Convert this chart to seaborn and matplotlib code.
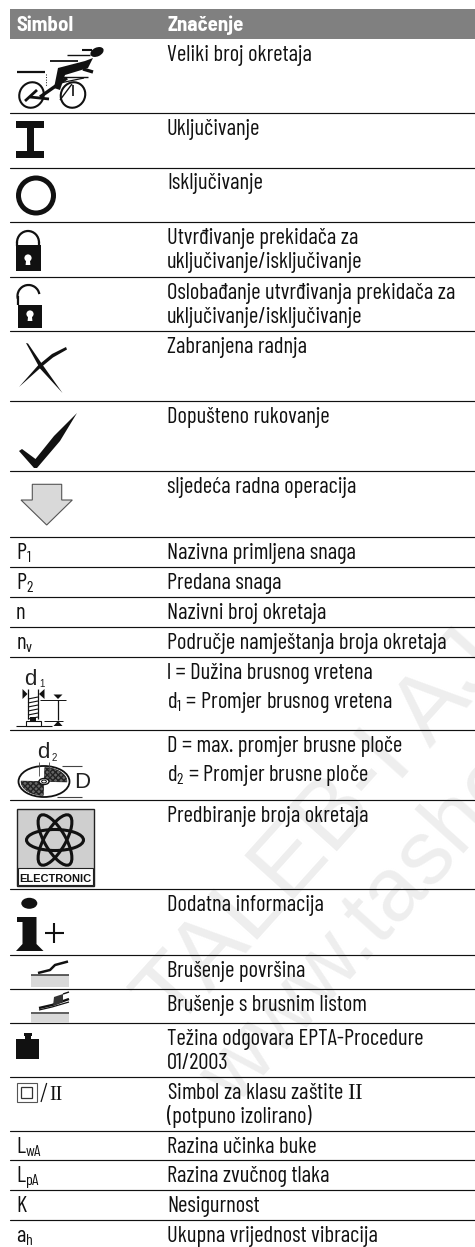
import numpy as np
import pandas as pd
import matplotlib
matplotlib.use("Agg")
import matplotlib.pyplot as plt
from matplotlib.patches import Rectangle, Polygon, Ellipse, Arc, Circle
import seaborn as sns

# tablica simbola
header = ["Simbol", "Značenje"]
symbol_text = {
    8: "P$_{1}$", 9: "P$_{2}$", 10: "n", 11: "n$_{v}$",
    20: "L$_{wA}$", 21: "L$_{pA}$", 22: "K", 23: "a$_{h}$",
}
meanings = [
    ["Veliki broj okretaja"],
    ["Uključivanje"],
    ["Isključivanje"],
    ["Utvrđivanje prekidača za", "uključivanje/isključivanje"],
    ["Oslobađanje utvrđivanja prekidača za", "uključivanje/isključivanje"],
    ["Zabranjena radnja"],
    ["Dopušteno rukovanje"],
    ["sljedeća radna operacija"],
    ["Nazivna primljena snaga"],
    ["Predana snaga"],
    ["Nazivni broj okretaja"],
    ["Područje namještanja broja okretaja"],
    ["l = Dužina brusnog vretena", "d$_{1}$ = Promjer brusnog vretena"],
    ["D = max. promjer brusne ploče", "d$_{2}$ = Promjer brusne ploče"],
    ["Predbiranje broja okretaja"],
    ["Dodatna informacija"],
    ["Brušenje površina"],
    ["Brušenje s brusnim listom"],
    ["Težina odgovara EPTA-Procedure", "01/2003"],
    ["Simbol za klasu zaštite $\\mathcal{II}$", "(potpuno izolirano)"],
    ["Razina učinka buke"],
    ["Razina zvučnog tlaka"],
    ["Nesigurnost"],
    ["Ukupna vrijednost vibracija"],
]
# gornji rub svakog retka, u pikselima slike
row_tops = [39, 112.5, 167.5, 222, 277, 331, 401, 471, 537, 567, 597, 627, 657,
            730, 800, 889, 955, 989, 1023, 1077, 1131, 1160, 1190, 1220]
watermarks = ["TALEB-I AJANS", "www.tasho"]

W, H = 475, 1247
LEFT, MID = 16, 167
FONT = "Barlow Condensed"
HEAD_FONT = "Barlow Semi Condensed"
INK = "#111111"

sns.set_theme(style="white")
plt.rcParams["font.family"] = [FONT, "Roboto", "DejaVu Sans"]
plt.rcParams["mathtext.fontset"] = "custom"
plt.rcParams["mathtext.rm"] = FONT
plt.rcParams["mathtext.it"] = FONT
plt.rcParams["mathtext.bf"] = FONT + ":bold"
plt.rcParams["mathtext.cal"] = "Liberation Serif"
plt.rcParams["mathtext.default"] = "rm"

fig = plt.figure(figsize=(W / 100, H / 100), dpi=100, facecolor="white")
ax = fig.add_axes([0, 0, 1, 1])


def line(pts, lw=1.0, color=INK, **kw):
    xs, ys = zip(*pts)
    ax.plot(xs, ys, color=color, lw=lw, solid_capstyle=kw.pop("cap", "butt"), zorder=3, **kw)


def poly(pts, fc=INK, ec="none", lw=0, z=3):
    ax.add_patch(Polygon(pts, closed=True, fc=fc, ec=ec, lw=lw, zorder=z))


def rect(x0, y0, x1, y1, fc=INK, ec="none", lw=0, z=3):
    ax.add_patch(Rectangle((x0, y0), x1 - x0, y1 - y0, fc=fc, ec=ec, lw=lw, zorder=z))


def ell(x, y, rx, ry, angle=0, fc="none", ec=INK, lw=1.0, z=3):
    ax.add_patch(Ellipse((x, y), 2 * rx, 2 * ry, angle=angle, fc=fc, ec=ec, lw=lw, zorder=z))


def draw_bike():
    ell(31.5, 95, 12, 13, angle=30, lw=1.5)
    ell(73, 95, 12, 13, angle=30, lw=1.5)
    line([(17, 71.5), (45, 71.5)], lw=1.6)
    line([(50, 60.5), (78, 60.5)], lw=1.3)
    line([(67, 55), (90, 55)], lw=1.0)
    line([(82, 49.5), (92, 49.5)], lw=1.5)
    ell(97, 52, 7, 4.4, angle=-25, fc=INK, ec="none", lw=0)
    # vozac
    poly([(93, 58), (88, 68), (65, 75), (60, 90), (54, 88), (58, 68), (85, 61)])
    line([(83, 69), (93, 72)], lw=2.4)
    line([(67, 78), (40, 97)], lw=2.4)
    line([(62, 77), (88, 77)], lw=1.0)
    line([(60, 83), (84, 78)], lw=0.9)
    line([(46, 74), (46, 86)], lw=0.7, ls=":")
    line([(73, 85), (73, 96)], lw=1.2)
    line([(30, 97), (49, 99)], lw=2.0)
    line([(25, 101), (37, 90)], lw=2.0)
    line([(72, 84), (60, 100)], lw=1.0)


def draw_on():
    rect(16, 121, 43.5, 128)
    rect(16, 151, 43.5, 157.5)
    rect(26.5, 128, 33.5, 151)


def draw_off():
    ell(36, 195.5, 17.5, 17.5, lw=3.6)


def keyhole(x, y):
    ax.add_patch(Circle((x, y), 3.6, fc="white", ec="none", zorder=4))
    poly([(x - 1.8, y + 1), (x + 1.8, y + 1), (x + 2.4, y + 7), (x - 2.4, y + 7)], fc="white", z=4)


def draw_locked():
    rect(16, 245, 40.5, 271)
    ax.add_patch(Arc((28, 242.5), 22, 23, theta1=180, theta2=360, ec=INK, lw=1.6, zorder=3))
    line([(17, 242), (17, 246)], lw=1.6)
    line([(39, 242), (39, 246)], lw=1.6)
    keyhole(28, 258)


def draw_unlocked():
    rect(18, 305, 42, 328)
    ax.add_patch(Arc((28.5, 296), 22, 22, theta1=165, theta2=350, ec=INK, lw=1.6, zorder=3))
    line([(17.5, 296), (17.5, 305)], lw=1.6)
    keyhole(30, 314)


def draw_forbidden():
    poly([(26, 343), (28, 343.5), (42, 364), (62.5, 393), (40, 368.5)])
    poly([(19, 387), (38, 365.5), (52, 354), (66, 347), (67, 349.5), (53, 357.5), (42, 366.5)])


def draw_allowed():
    poly([(19, 451), (22, 449), (35.5, 459), (54, 436), (77, 413), (60, 441), (37, 468), (34, 468)])


def draw_next():
    poly([(32.3, 484.3), (61.7, 484.3), (61.7, 500), (72.3, 500), (46.7, 525), (21, 500), (32.3, 500)],
         fc="#d9d9d9", ec="#555555", lw=0.8)


def draw_spindle():
    ax.text(24.5, 685, "d", family="Liberation Sans", fontsize=16, color="#222222", va="baseline")
    ax.text(39.5, 687, "1", family="Liberation Sans", fontsize=7, color="#222222", va="baseline")
    poly([(27.5, 694), (22.5, 689), (22.5, 699)])
    poly([(39, 694), (44.5, 689), (44.5, 699)])
    line([(28, 689), (28, 719)], lw=0.9)
    line([(38, 689), (38, 719)], lw=0.9)
    for y in [698, 702, 706, 710, 714, 718]:
        line([(28, y + 1), (38, y - 1)], lw=0.8)
    rect(30, 717, 36, 721)
    line([(16, 725.5), (52, 725.5)], lw=0.8)
    rect(26, 721, 41, 725.5, fc="white", ec=INK, lw=0.8)
    line([(40, 699.5), (66, 699.5)], lw=0.7)
    line([(44, 720.5), (63, 720.5)], lw=0.7)
    line([(58, 700), (58, 720)], lw=0.9)
    poly([(58, 699), (53.5, 694.5), (62.5, 694.5)])
    poly([(58, 721), (53.5, 726), (62.5, 726)])


def draw_disc():
    cx, cy, rx, ry = 44, 781.5, 25.5, 15.5
    ell(cx, cy, rx, ry, lw=1.3)
    for a0, a1 in [(-88, 2), (92, 182)]:
        t = np.radians(np.linspace(a0, a1, 30))
        outer = np.c_[cx + 0.9 * rx * np.cos(t), cy + 0.9 * ry * np.sin(t)]
        inner = np.c_[cx + 0.2 * rx * np.cos(t[::-1]), cy + 0.2 * ry * np.sin(t[::-1])]
        ax.add_patch(Polygon(np.r_[outer, inner], closed=True, fc="#666666", ec="#222222",
                             lw=0.4, hatch="xxxxxx", zorder=3))
    ell(cx, cy, 5, 3, fc="white", lw=1.0, z=4)
    ell(cx, cy, 2.4, 1.4, fc="white", lw=0.7, z=4)
    ax.text(37.5, 758, "d", family="Liberation Sans", fontsize=16, color="#222222", va="baseline")
    ax.text(51.5, 761, "2", family="Liberation Sans", fontsize=7, color="#222222", va="baseline")
    ax.text(74.5, 788, "D", family="Liberation Sans", fontsize=16, color="#222222", va="baseline")
    line([(62, 765.5), (82, 765.5)], lw=0.8, color="#444444")
    line([(57, 796.5), (82, 796.5)], lw=0.8, color="#444444")
    line([(39, 762), (39, 776)], lw=0.6, color="#444444")
    line([(48.5, 762), (48.5, 776)], lw=0.6, color="#444444")


def draw_electronic():
    rect(16.5, 809, 93.5, 885.5, fc="#cfcfcf", ec="#222222", lw=1.0)
    rect(17.5, 868, 92.5, 885, fc="white", ec="#222222", lw=0.8)
    for ang in [0, 60, 120]:
        ell(55, 840, 28.5, 10.5, angle=ang, lw=2.2)
    ax.text(55, 881.5, "ELECTRONIC", family="Liberation Sans", weight="bold", fontsize=8,
            color=INK, ha="center", va="baseline", zorder=5)


def draw_info():
    ell(29.3, 903.3, 8, 5.5, fc=INK, ec="none", lw=0)
    poly([(17, 917), (36.5, 917), (36.5, 944), (43.5, 951), (16, 951), (22.5, 944), (22.5, 922), (17, 922)])
    line([(54, 923), (54, 943)], lw=1.5)
    line([(45, 933), (64, 933)], lw=1.5)


def draw_grind():
    rect(31, 975, 69, 986.5, fc="#d9d9d9", z=2)
    line([(31, 974.5), (69, 974.5)], lw=1.1, color="#333333")
    line([(38, 973), (50, 970), (55, 965), (68, 961.5)], lw=1.8)


def draw_sand():
    rect(31, 1013.5, 69, 1022.5, fc="#d9d9d9", z=2)
    line([(31, 1013), (69, 1013)], lw=1.1, color="#333333")
    line([(39, 1010), (52, 1007), (69, 1002)], lw=0.9)
    line([(39, 1008), (52, 1005), (69, 999)], lw=1.7)
    poly([(53, 1006), (54, 997), (63, 994), (63, 1002)], fc="#333333")
    line([(63, 994), (69, 992)], lw=1.0)


def draw_weight():
    rect(16, 1039, 39, 1059)
    rect(24.5, 1035, 31, 1039)
    rect(23.5, 1032.5, 32, 1036)


def draw_class2():
    rect(16.7, 1082.7, 36.7, 1102.3, fc="none", ec="#555555", lw=0.8)
    rect(21, 1086.7, 32.3, 1097.7, fc="none", ec="#333333", lw=0.9)
    line([(41, 1102), (46.7, 1083)], lw=0.9)
    ax.text(49, 1100, "II", family="Liberation Serif", fontsize=14.5, color=INK, va="baseline")


icons = {0: draw_bike, 1: draw_on, 2: draw_off, 3: draw_locked, 4: draw_unlocked,
         5: draw_forbidden, 6: draw_allowed, 7: draw_next, 12: draw_spindle, 13: draw_disc,
         14: draw_electronic, 15: draw_info, 16: draw_grind, 17: draw_sand, 18: draw_weight,
         19: draw_class2}

# vodeni žig
ax.text(174, 1032, watermarks[0], fontsize=70, family="Liberation Sans", color="#eeeeee",
        rotation=48, rotation_mode="anchor", va="baseline", ha="left", zorder=0, clip_on=True)
ax.text(235, 1107, watermarks[1], fontsize=65, family="Liberation Sans", color="#eeeeee",
        rotation=48, rotation_mode="anchor", va="baseline", ha="left", zorder=0, clip_on=True)

rules = pd.DataFrame({
    "x": [10, W] * (len(row_tops) - 1),
    "y": np.repeat(row_tops[1:], 2),
    "rule": np.repeat(np.arange(len(row_tops) - 1), 2),
})
sns.lineplot(data=rules, x="x", y="y", units="rule", estimator=None, color="#111111",
             lw=0.85, ax=ax, zorder=2, legend=False)

rect(10, 9, W, 39, fc="#808080", z=2)
ax.text(LEFT, 31, header[0], color="white", family=HEAD_FONT, weight="bold", fontsize=15, va="baseline", zorder=4)
ax.text(MID, 31, header[1], color="white", family=HEAD_FONT, weight="bold", fontsize=15, va="baseline", zorder=4)

for i, (top, lines) in enumerate(zip(row_tops, meanings)):
    gap = 29 if i in (12, 13) else 24
    for k, txt in enumerate(lines):
        ax.text(MID, top + 22 + k * gap, txt, fontsize=16.3, color=INK, va="baseline", zorder=4)
    if i in symbol_text:
        ax.text(LEFT, top + 22, symbol_text[i], fontsize=16.3, color=INK, va="baseline", zorder=4)
    if i in icons:
        icons[i]()

ax.set_xlim(0, W)
ax.set_ylim(H, 0)
ax.axis("off")
fig.savefig("out.png", dpi=100, facecolor="white")
